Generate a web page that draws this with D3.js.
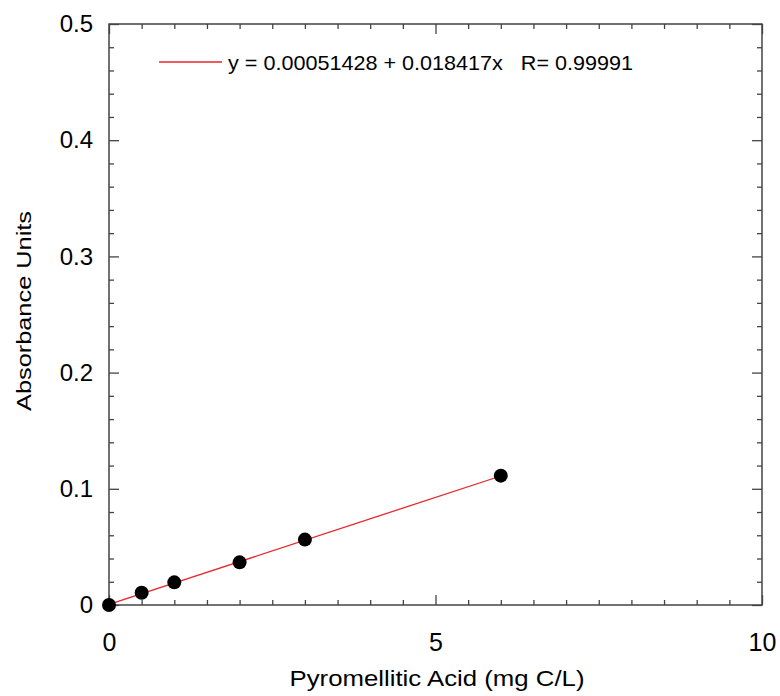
<!DOCTYPE html>
<html><head><meta charset="utf-8">
<script src="https://cdn.jsdelivr.net/npm/d3@7"></script>
<style>body{margin:0;background:#fff}svg{display:block;font-family:"Liberation Sans",Arial,sans-serif}</style>
</head><body>
<script>
const xValues = [0, 0.5, 1, 2, 3, 6];
const yValues = [0, 0.0106, 0.0195, 0.0367, 0.0563, 0.1113];
const fitIntercept = 0.00051428;
const fitSlope = 0.018417;
const fitRange = [0, 6];
const xMajorTicks = [0, 5, 10];
const yMajorTicks = [0, 0.1, 0.2, 0.3, 0.4, 0.5];
const legendText = "y = 0.00051428 + 0.018417x   R= 0.99991";
const xTitle = "Pyromellitic Acid (mg C/L)";
const yTitle = "Absorbance Units";

const W = 780, H = 696;
const m = {left:109, right:18, top:24, bottom:91};
const svg = d3.select("body").append("svg").attr("width", W).attr("height", H);
const x = d3.scaleLinear().domain([0,10]).range([m.left, W - m.right]);
const y = d3.scaleLinear().domain([0,0.5]).range([H - m.bottom, m.top]);
const axisColor = "#444";

const xMinor = d3.range(0, 10.001, 0.5).filter(v => Math.abs(v % 5) > 1e-6);
const yMinor = d3.range(0, 0.5001, 0.02).filter(v => Math.abs(Math.round(v*100) % 10) > 1e-6);

function styleAxis(g){ g.select(".domain").remove(); g.selectAll("line").attr("stroke", axisColor).attr("stroke-width",1.3); }

// bottom axis
svg.append("g").attr("transform",`translate(0,${y(0)})`)
  .call(d3.axisBottom(x).tickValues(xMajorTicks).tickSize(-10).tickPadding(20).tickFormat(d3.format("d")))
  .call(styleAxis).call(g=>g.selectAll("text").attr("font-size",25).attr("fill","#000").attr("font-family","Liberation Sans, Arial").attr("dy","1.05em"));
svg.append("g").attr("transform",`translate(0,${y(0)})`)
  .call(d3.axisBottom(x).tickValues(xMinor).tickSize(-5).tickFormat(""))
  .call(styleAxis);
// top axis
svg.append("g").attr("transform",`translate(0,${y(0.5)})`)
  .call(d3.axisTop(x).tickValues(xMajorTicks).tickSize(-10).tickFormat(""))
  .call(styleAxis);
svg.append("g").attr("transform",`translate(0,${y(0.5)})`)
  .call(d3.axisTop(x).tickValues(xMinor).tickSize(-5).tickFormat(""))
  .call(styleAxis);
// left axis
svg.append("g").attr("transform",`translate(${x(0)},0)`)
  .call(d3.axisLeft(y).tickValues(yMajorTicks).tickSize(-10).tickPadding(16).tickFormat(d => d === 0 ? "0" : d3.format(".1f")(d)))
  .call(styleAxis).call(g=>g.selectAll("text").attr("font-size",24).attr("fill","#000").attr("font-family","Liberation Sans, Arial"));
svg.append("g").attr("transform",`translate(${x(0)},0)`)
  .call(d3.axisLeft(y).tickValues(yMinor).tickSize(-5).tickFormat(""))
  .call(styleAxis);
// right axis
svg.append("g").attr("transform",`translate(${x(10)},0)`)
  .call(d3.axisRight(y).tickValues(yMajorTicks).tickSize(-10).tickFormat(""))
  .call(styleAxis);
svg.append("g").attr("transform",`translate(${x(10)},0)`)
  .call(d3.axisRight(y).tickValues(yMinor).tickSize(-5).tickFormat(""))
  .call(styleAxis);

// frame
svg.append("rect").attr("x",x(0)).attr("y",y(0.5)).attr("width",x(10)-x(0)).attr("height",y(0)-y(0.5))
  .attr("fill","none").attr("stroke",axisColor).attr("stroke-width",1.5);

// fit line
svg.append("line")
  .attr("x1",x(fitRange[0])).attr("y1",y(fitIntercept+fitSlope*fitRange[0]))
  .attr("x2",x(fitRange[1])).attr("y2",y(fitIntercept+fitSlope*fitRange[1]))
  .attr("stroke","#e8262a").attr("stroke-width",1.3);

// points
svg.selectAll("circle.pt").data(xValues.map((v,i)=>[v,yValues[i]])).enter().append("circle")
  .attr("cx",d=>x(d[0])).attr("cy",d=>y(d[1])).attr("r",7).attr("fill","#000");

// legend
svg.append("line").attr("x1",159).attr("x2",222).attr("y1",62).attr("y2",62).attr("stroke","#e8262a").attr("stroke-width",1.3);
svg.append("text").attr("x",228).attr("y",70).attr("font-size",21).attr("textLength",405).attr("lengthAdjust","spacingAndGlyphs")
  .style("white-space","pre").text(legendText);

// titles
svg.append("text").attr("x",437).attr("y",686).attr("text-anchor","middle").attr("font-size",22)
  .attr("textLength",295).attr("lengthAdjust","spacingAndGlyphs").text(xTitle);
svg.append("text").attr("transform",`translate(31,311) rotate(-90)`).attr("text-anchor","middle").attr("font-size",21)
  .attr("textLength",200).attr("lengthAdjust","spacingAndGlyphs").text(yTitle);
</script>
</body></html>
